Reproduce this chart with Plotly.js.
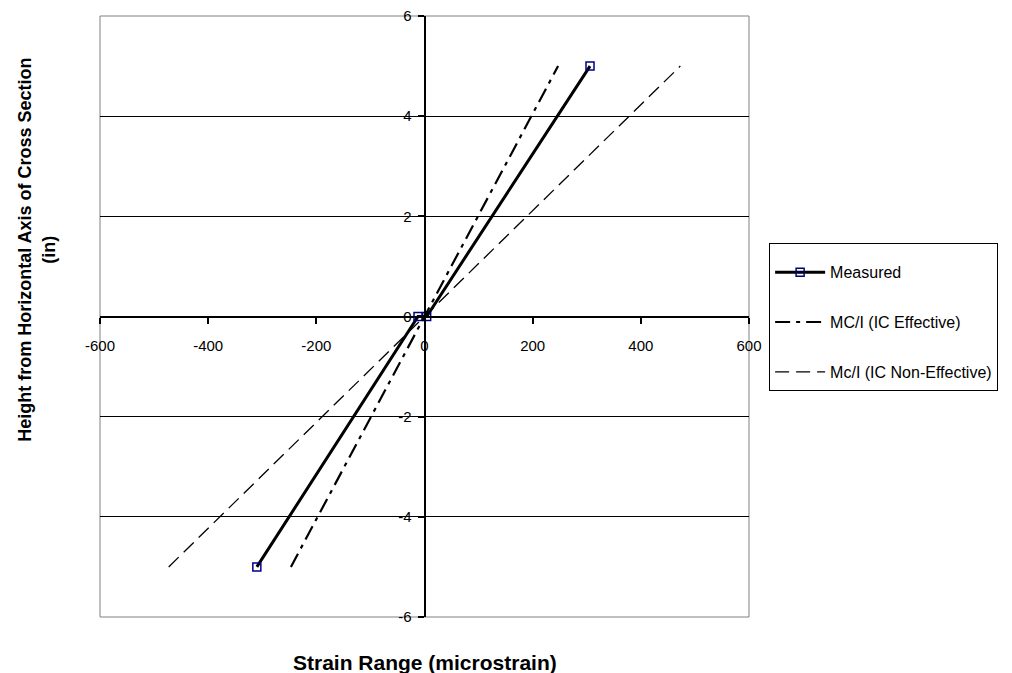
<!DOCTYPE html>
<html>
<head>
<meta charset="utf-8">
<script src="https://cdn.plot.ly/plotly-3.0.1.min.js"></script>
<style>html,body{margin:0;padding:0;background:#fff;}#chart{width:1012px;height:673px;}</style>
</head>
<body>
<div id="chart"></div>
<script>
// Data
const measuredX = [-310, -12, 4, 306];
const measuredY = [-5, 0, 0, 5];
const effectiveX = [-247, 0, 247];
const effectiveY = [-5, 0, 5];
const nonEffectiveX = [-473, 0, 473];
const nonEffectiveY = [-5, 0, 5];
const xTickVals = [-600, -400, -200, 0, 200, 400, 600];
const yTickVals = [-6, -4, -2, 0, 2, 4, 6];

const FONT = 'Liberation Sans, Arial, sans-serif';

const traces = [
  {
    x: measuredX, y: measuredY, name: 'Measured', type: 'scatter', mode: 'lines+markers',
    legendgroup: 'a',
    line: {color: '#000000', width: 3},
    marker: {symbol: 'square-open', size: 8, color: '#000080', line: {width: 1.5, color: '#000080'}}
  },
  {
    x: effectiveX, y: effectiveY, name: 'MC/I (IC Effective)', type: 'scatter', mode: 'lines',
    legendgroup: 'b',
    line: {color: '#000000', width: 2.2, dash: '15px,6px,4px,6px'}
  },
  {
    x: nonEffectiveX, y: nonEffectiveY, name: 'Mc/I (IC Non-Effective)', type: 'scatter', mode: 'lines',
    legendgroup: 'c',
    line: {color: '#000000', width: 1.3, dash: '14px,7px'}
  }
];

const layout = {
  width: 1012, height: 673,
  margin: {l: 100, r: 263, t: 16, b: 56},
  paper_bgcolor: '#ffffff', plot_bgcolor: '#ffffff',
  font: {family: FONT, size: 15, color: '#000000'},
  showlegend: true,
  xaxis: {
    range: [-600, 600], tickvals: xTickVals, ticktext: xTickVals.map(String),
    anchor: 'free', position: 0.5,
    showline: true, linecolor: '#000000', linewidth: 2,
    ticks: 'outside', ticklen: 6, tickwidth: 2, tickcolor: '#000000',
    ticklabelstandoff: 9,
    showgrid: false, zeroline: false,
    tickfont: {family: FONT, size: 15, color: '#000000'}
  },
  yaxis: {
    range: [-6, 6], tickvals: yTickVals, ticktext: yTickVals.map(String),
    anchor: 'free', position: 0.5,
    showline: true, linecolor: '#000000', linewidth: 2,
    ticks: 'outside', ticklen: 6, tickwidth: 2, tickcolor: '#000000',
    ticklabelstandoff: 3,
    showgrid: true, gridcolor: '#000000', gridwidth: 1,
    zeroline: false,
    tickfont: {family: FONT, size: 15, color: '#000000'}
  },
  shapes: [
    {type: 'rect', xref: 'paper', yref: 'paper', x0: 0, x1: 1, y0: 0, y1: 1,
     line: {color: '#808080', width: 1}, layer: 'below'}
  ],
  legend: {
    x: 1.031, y: 0.623, xanchor: 'left', yanchor: 'top',
    bordercolor: '#000000', borderwidth: 1, bgcolor: '#ffffff',
    font: {family: FONT, size: 16, color: '#000000'},
    title: {text: ' ', font: {family: FONT, size: 9}},
    traceorder: 'grouped', tracegroupgap: 26, itemwidth: 50
  },
  annotations: [
    {text: 'Height from Horizontal Axis of Cross Section<br>(in)', textangle: -90,
     xref: 'paper', yref: 'paper', x: -0.097, y: 0.611, xanchor: 'center', yanchor: 'middle',
     showarrow: false, font: {family: FONT, size: 18, weight: 'bold', color: '#000000'}},
    {text: 'Strain Range (microstrain)',
     xref: 'paper', yref: 'paper', x: 0.5, y: -0.0765, xanchor: 'center', yanchor: 'middle',
     showarrow: false, font: {family: FONT, size: 21, weight: 'bold', color: '#000000'}}
  ]
};

Plotly.newPlot('chart', traces, layout, {displayModeBar: false, staticPlot: true});
</script>
</body>
</html>
